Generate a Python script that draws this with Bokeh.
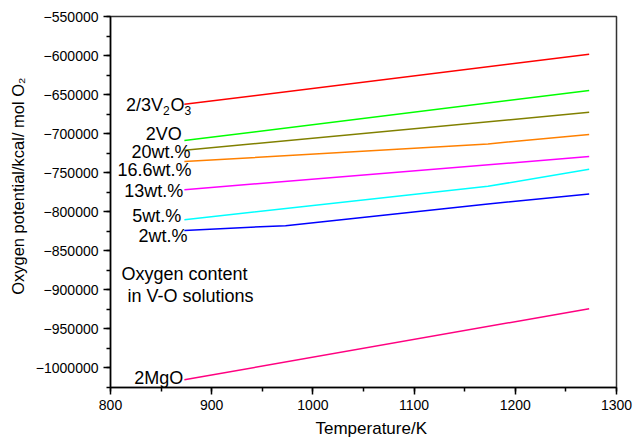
from bokeh.plotting import figure
from bokeh.models import Range1d, SingleIntervalTicker, BasicTickFormatter, ColumnDataSource, Title
from bokeh.core.properties import value
from bokeh.embed import file_html
from bokeh.resources import INLINE

# ---- data (Temperature/K vs oxygen potential) ----
T_v2o3 = [873, 1273]
G_v2o3 = [-662500, -598400]
T_vo = [873, 1273]
G_vo = [-709100, -644900]
T_20 = [873, 1273]
G_20 = [-721500, -672800]
T_166 = [873, 1173, 1273]
G_166 = [-736000, -713300, -701400]
T_13 = [873, 1273]
G_13 = [-772000, -729600]
T_5 = [873, 1173, 1273]
G_5 = [-810400, -767700, -745900]
T_2 = [873, 973, 1173, 1273]
G_2 = [-824200, -818100, -790300, -777500]
T_mgo = [873, 1273]
G_mgo = [-1015700, -924600]

series = [
    (T_v2o3, G_v2o3, "#ff0000"),
    (T_vo, G_vo, "#00ff00"),
    (T_20, G_20, "#808000"),
    (T_166, G_166, "#ff8000"),
    (T_13, G_13, "#ff00ff"),
    (T_5, G_5, "#00ffff"),
    (T_2, G_2, "#0000ff"),
    (T_mgo, G_mgo, "#ff0080"),
]

# curve labels (right-aligned)
label_text = ["2VO", "20wt.%", "16.6wt.%", "13wt.%", "5wt.%", "2wt.%", "2MgO"]
label_x = [870.5, 879, 880, 872, 870, 876, 872]
label_y = [-706900, -729600, -752700, -779700, -811700, -838000, -1019600]

note_text = ["Oxygen content", "in V-O solutions"]
note_x = [810.9, 816.8]
note_y = [-886800, -914400]

FONT = "Liberation Sans"
YSHIFT = -5

p = figure(width=633, height=445, output_backend="svg", toolbar_location=None,
           x_range=Range1d(800, 1300), y_range=Range1d(-1025600, -550000),
           min_border_left=10, min_border_right=17, min_border_top=16, min_border_bottom=58)
p.xgrid.visible = False
p.ygrid.visible = False
p.outline_line_color = "#333333"
p.outline_line_width = 1.5
p.background_fill_color = "white"
p.border_fill_color = "white"

for ax in (p.xaxis[0], p.yaxis[0]):
    ax.axis_line_width = 1.5
    ax.axis_line_color = "black"
    ax.major_tick_line_width = 1.5
    ax.minor_tick_line_width = 1.5
    ax.major_tick_in = 0
    ax.major_tick_out = 7
    ax.minor_tick_in = 0
    ax.minor_tick_out = 4
    ax.major_label_text_font = FONT
    ax.major_label_text_font_size = "14px"
    ax.major_label_text_color = "black"

p.xaxis[0].ticker = SingleIntervalTicker(interval=100, num_minor_ticks=2)
p.yaxis[0].ticker = SingleIntervalTicker(interval=50000, num_minor_ticks=2)
p.yaxis[0].formatter = BasicTickFormatter(use_scientific=False)
p.xaxis[0].major_label_standoff = 5
p.yaxis[0].major_label_standoff = 5

ytitle = Title(text="Oxygen potential/kcal/ mol O\u2082", align="right", offset=61,
               text_font=FONT, text_font_size="16.5px", text_font_style="normal",
               text_color="black", standoff=12)
p.add_layout(ytitle, "left")
xtitle = Title(text="Temperature/K", align="left", offset=205,
               text_font=FONT, text_font_size="17px", text_font_style="normal",
               text_color="black", standoff=8)
p.add_layout(xtitle, "below")

for xs, ys, c in series:
    p.line(xs, ys, line_color=c, line_width=1.5)

src = ColumnDataSource(dict(x=label_x, y=label_y, t=label_text))
p.text("x", "y", text="t", source=src, text_align="right", text_baseline="alphabetic",
       y_offset=YSHIFT, text_font=value(FONT), text_font_size="18px", text_color="black")

nsrc = ColumnDataSource(dict(x=note_x, y=note_y, t=note_text))
p.text("x", "y", text="t", source=nsrc, text_align="left", text_baseline="alphabetic",
       y_offset=YSHIFT, text_font=value(FONT), text_font_size="18px", text_color="black")

# 2/3V2O3 label built from pieces (main text + subscripts)
v_parts = ["2/3V", "2", "O", "3"]
v_offx = [0, 37, 44.5, 58.5]
v_offy = [YSHIFT, YSHIFT + 6, YSHIFT, YSHIFT + 6]
v_size = ["18px", "12px", "18px", "12px"]
vsrc = ColumnDataSource(dict(x=[815.2] * 4, y=[-669300] * 4, t=v_parts, xo=v_offx, yo=v_offy, fs=v_size))
p.text("x", "y", text="t", source=vsrc, x_offset="xo", y_offset="yo", text_font_size="fs",
       text_align="left", text_baseline="alphabetic", text_font=value(FONT), text_color="black")

open("out.html", "w").write(file_html(p, INLINE))
